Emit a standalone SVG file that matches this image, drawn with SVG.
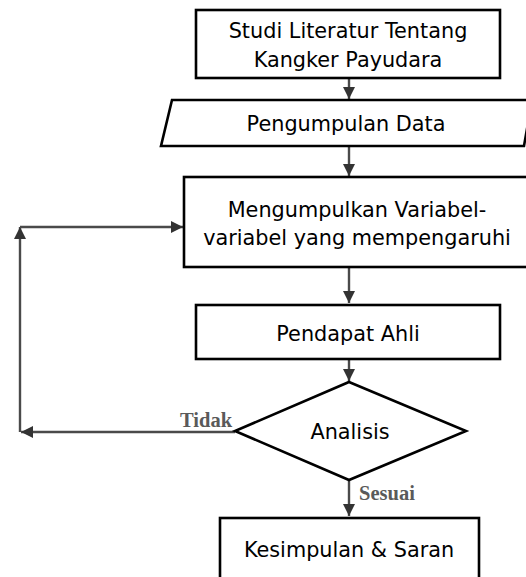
<svg xmlns="http://www.w3.org/2000/svg" width="526" height="577" viewBox="0 0 526 577">
<defs>
<style>
.n{fill:#fff;stroke:#000;stroke-width:2.6}
.t{font-family:"DejaVu Sans",Tahoma,sans-serif;font-size:20.8px;fill:#000;text-anchor:middle}
.c{fill:none;stroke:#4a4a4a;stroke-width:2.4}
.l{font-family:"Liberation Serif","DejaVu Serif",serif;font-size:20.5px;font-weight:bold;fill:#5a5a5a}
</style>
<marker id="ah" viewBox="0 0 10 10" refX="10" refY="5" markerWidth="12" markerHeight="12" markerUnits="userSpaceOnUse" orient="auto">
<path d="M0,0 L10,5 L0,10 Z" fill="#333"/>
</marker>
</defs>
<g id="connectors">
<line class="c" x1="349" y1="79" x2="349" y2="99" marker-end="url(#ah)"/>
<line class="c" x1="349" y1="147" x2="349" y2="176" marker-end="url(#ah)"/>
<line class="c" x1="349" y1="268" x2="349" y2="303" marker-end="url(#ah)"/>
<line class="c" x1="349" y1="360" x2="349" y2="381" marker-end="url(#ah)"/>
<line class="c" x1="235" y1="432" x2="21" y2="432" marker-end="url(#ah)"/>
<line class="c" x1="20" y1="432" x2="20" y2="227" marker-end="url(#ah)"/>
<line class="c" x1="20" y1="227" x2="183" y2="227" marker-end="url(#ah)"/>
<line class="c" x1="349" y1="481" x2="349" y2="516" marker-end="url(#ah)"/>
<text class="l" x="180" y="427">Tidak</text>
<text class="l" x="359" y="500">Sesuai</text>
</g>
<g id="studi">
<rect class="n" x="196" y="10" width="304" height="68"/>
<text class="t" x="348" y="38">Studi Literatur  Tentang</text>
<text class="t" x="348" y="67">Kangker Payudara</text>
</g>
<g id="pengumpulan">
<polygon class="n" points="172,100 532,100 524,146 161,146"/>
<text class="t" x="346" y="131">Pengumpulan Data</text>
</g>
<g id="variabel">
<rect class="n" x="184" y="177" width="350" height="90"/>
<text class="t" x="357" y="217">Mengumpulkan Variabel-</text>
<text class="t" x="357" y="245">variabel yang mempengaruhi</text>
</g>
<g id="pendapat">
<rect class="n" x="196" y="305" width="304" height="54"/>
<text class="t" x="348" y="341">Pendapat Ahli</text>
</g>
<g id="analisis">
<polygon class="n" points="349,382 466,431 349,480 235,431"/>
<text class="t" x="350" y="439">Analisis</text>
</g>
<g id="kesimpulan">
<rect class="n" x="220" y="518" width="259" height="70"/>
<text class="t" x="349" y="557">Kesimpulan &amp; Saran</text>
</g>
</svg>
